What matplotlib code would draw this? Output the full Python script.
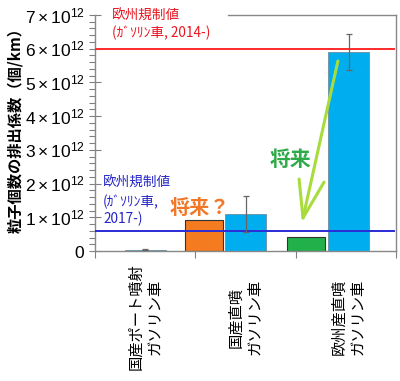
import matplotlib
matplotlib.use("Agg")
import matplotlib.pyplot as plt
import numpy as np
from matplotlib.ticker import MultipleLocator, FuncFormatter
from matplotlib.transforms import blended_transform_factory

plt.rcParams['font.family'] = ['Noto Sans CJK JP', 'DejaVu Sans']
plt.rcParams['mathtext.fontset'] = 'custom'
plt.rcParams['mathtext.rm'] = 'Liberation Sans'
plt.rcParams['mathtext.it'] = 'Liberation Sans'

# ---- data ----
categories = ["国産ポート噴射\nガソリン車", "国産直噴\nガソリン車", "欧州産直噴\nガソリン車"]
blue_pos = [0.5, 1.5, 2.53]
blue_vals = [0.04e12, 1.09e12, 5.9e12]
blue_err = [0.02e12, 0.54e12, 0.53e12]
future_pos = [1.09, 2.10]
future_vals = [0.92e12, 0.42e12]
future_colors = ["#F47B20", "#22B04B"]
limit_2014 = 6.0e12
limit_2017 = 0.6e12
xtick_pos = [0, 1, 2, 3]

fig = plt.figure(figsize=(4.0, 3.81), dpi=100)
ax = fig.add_axes([95/400, 1-251/381, 301/400, 236/381])

ax.bar(blue_pos, blue_vals, width=0.41, color="#00AEEF", edgecolor="#6d8fa0",
       linewidth=0.6, zorder=2)
ax.errorbar(blue_pos, blue_vals, yerr=blue_err, fmt='none', ecolor="#666666",
            elinewidth=0.9, capsize=2, capthick=0.9, zorder=4)
ax.bar(future_pos, future_vals, width=0.38, color=future_colors, edgecolor="#333333",
       linewidth=0.8, zorder=2)

ax.axhline(limit_2014, xmin=0, xmax=0.995, color="#FF2A2A", lw=1.4, zorder=3)
ax.axhline(limit_2017, xmin=0, xmax=0.995, color="#2B2BD6", lw=1.4, zorder=3)

ax.set_xlim(0, 3)
ax.set_ylim(0, 7e12)

ax.yaxis.set_major_locator(MultipleLocator(1e12))
ax.yaxis.set_minor_locator(MultipleLocator(0.2e12))

def fmt(v, pos):
    n = int(round(v / 1e12))
    if n == 0:
        return r"$0$"
    return r"$%d\times10^{12}$" % n

ax.yaxis.set_major_formatter(FuncFormatter(fmt))
ax.set_xticks(xtick_pos)
ax.set_xticklabels([])
ax.tick_params(axis='y', which='major', direction='inout', length=9, width=0.8,
               color="#808080", labelsize=12.5, pad=3)
ax.tick_params(axis='y', which='minor', direction='out', length=4, width=0.8,
               color="#808080")
ax.tick_params(axis='x', which='major', direction='out', length=5, width=0.8,
               color="#808080")

for s in ['left', 'bottom', 'right']:
    ax.spines[s].set_color("#888888")
    ax.spines[s].set_linewidth(1.0)
ax.spines['top'].set_visible(False)
ax.plot([0.442, 1.0], [1.0, 1.0], transform=ax.transAxes, color="#888888",
        lw=1.0, clip_on=False, zorder=5)

# category labels
trans = blended_transform_factory(ax.transData, fig.transFigure)
for x, lab in zip(blue_pos, categories):
    ax.text(x, 1-317/381, lab, transform=trans, rotation=90, ha='center',
            va='center', multialignment='center', fontsize=11, linespacing=1.15)

# y label
fig.text(15/400, 1-126/381, "粒子個数の排出係数（個/km）", rotation=90, ha='center',
         va='center', fontsize=11, fontweight='bold')

# annotations
ax.text(0.056, 0.996, "欧州規制値", transform=ax.transAxes, color="#E8141E",
        fontsize=9.8, ha='left', va='center')
ax.text(0.056, 0.924, "(ｶﾞｿﾘﾝ車, 2014-)", transform=ax.transAxes, color="#E8141E",
        fontsize=9.8, ha='left', va='center')
ax.text(0.027, 0.288, "欧州規制値", transform=ax.transAxes, color="#2424C8",
        fontsize=9.8, ha='left', va='center')
ax.text(0.027, 0.208, "(ｶﾞｿﾘﾝ車,", transform=ax.transAxes, color="#2424C8",
        fontsize=9.8, ha='left', va='center')
ax.text(0.027, 0.136, "2017-)", transform=ax.transAxes, color="#2424C8",
        fontsize=9.8, ha='left', va='center')

ax.text(0.349, 0.186, "将来？", transform=ax.transAxes, color="#F07828",
        fontsize=14.5, fontweight='bold', ha='center', va='center', zorder=6)
ax.text(0.648, 0.386, "将来", transform=ax.transAxes, color="#2EAA48",
        fontsize=15, fontweight='bold', ha='center', va='center', zorder=6)

arrow_col = "#A8DC3C"
ax.plot([0.807, 0.691], [0.805, 0.140], transform=ax.transAxes, color=arrow_col,
        lw=2.2, solid_capstyle='round', zorder=6)
ax.plot([0.678, 0.691, 0.761], [0.305, 0.140, 0.292], transform=ax.transAxes,
        color=arrow_col, lw=2.2, solid_capstyle='round', solid_joinstyle='round', zorder=6)

fig.savefig("out.png", dpi=100)
